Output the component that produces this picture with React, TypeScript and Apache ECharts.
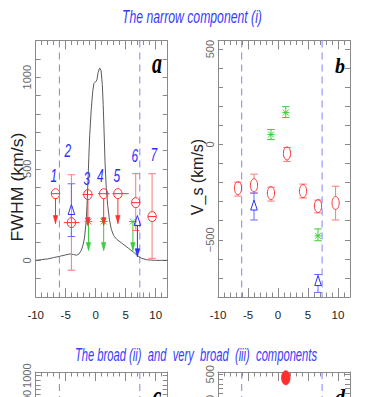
import React, { useEffect, useRef } from 'react';
import * as echarts from 'echarts';

// ---------- Panel a : line profile (grey curve) ----------
const curveX = [-10, -9, -8, -7, -6, -5, -4.3, -3.7, -3.2, -2.8, -2.4, -2.1, -1.85, -1.6, -1.45, -1.3, -1.15, -1.0, -0.75, -0.5, -0.3, 0, 0.2, 0.4, 0.65, 0.9, 1.1, 1.25, 1.4, 1.55, 1.75, 2.0, 2.3, 2.6, 3.0, 3.5, 4.5, 5.5, 6.3, 7.0, 7.6, 8.5, 10, 11, 12];
const curveY = [0, 4, 8, 15, 22, 30, 35, 32, 28, 35, 54, 85, 127, 210, 300, 420, 560, 680, 820, 920, 965, 975, 985, 1025, 1050, 1035, 960, 850, 700, 540, 400, 300, 220, 170, 135, 115, 90, 65, 45, 25, 12, 3, 0, 0, 0];

// ---------- Panel a : narrow component FWHM ----------
const redAX = [-6.7, -4.05, -1.3, 1.33, 3.7, 6.67, 9.4];
const redAY = [364, 206, 359, 364, 364, 315, 239];
const redAXLo = [null, -5.3, -2.2, 0.4, 2.8, null, null];
const redAXHi = [null, -2.7, -0.5, 2.3, 5.5, null, null];
const redAYLo = [null, -54, null, null, null, 163, 11];
const redAYHi = [null, 467, null, null, null, 473, 473];
const redALim = [201, null, 190, 190, 201, null, null];

const blueAX = [-4.05, 6.95];
const blueAY = [272, 212];
const blueAYLo = [130, null];
const blueAYHi = [418, null];
const blueALim = [null, 20];

const greenAX = [-1.2, 1.33, 6.2];
const greenAY = [212, 212, 212];
const greenALim = [54, 54, 54];

const numLabels = ['1', '2', '3', '4', '5', '6', '7'];
const numX = [-7.0, -4.67, -1.5, 0.78, 3.5, 6.5, 9.67];
const numY = [462, 598, 446, 462, 462, 571, 576];

// ---------- Panel b : narrow component velocity shift ----------
const redBX = [-6.67, -4.0, -1.17, 1.5, 4.17, 6.67, 9.6];
const redBY = [-229, -214, -255, -47, -245, -323, -307];
const redBLo = [-271, -255, -297, -89, -281, -359, -396];
const redBHi = [-198, -156, -224, -16, -208, -292, -219];

const blueBX = [-4.0, 6.67];
const blueBY = [-323, -719];
const blueBLo = [-396, -776];
const blueBHi = [-255, -682];

const greenBX = [-1.17, 1.3, 6.67];
const greenBY = [52, 167, -479];
const greenBLo = [26, 141, -505];
const greenBHi = [78, 198, -443];

// ---------- Panel d (only top visible) ----------
const redDX = [1.3];
const redDY = [426];
const redDHi = [500];

// vertical dashed reference lines
const dashX = [-6.05, 7.35];

const xTickLabels = [-10, -5, 0, 5, 10];

const AXIS = '#8a8a8a';
const RED = '#ff2f2f';
const RED_ERR = '#ff7878';
const BLUE = '#2f2fff';
const BLUE_ERR = '#6b6bff';
const GREEN = '#3ccc3c';
const DASH = '#8080ff';
const SANS = '"Liberation Sans", Arial, sans-serif';

const GRIDS = [
  { left: 35.7, top: 40.5, width: 132, height: 256.5 },
  { left: 218, top: 40.5, width: 132, height: 256.5 },
  { left: 35.7, top: 372, width: 132, height: 256.5 },
  { left: 218, top: 372, width: 132, height: 256.5 },
];
const Y_RANGES = [[-200, 1200], [-800, 545], [-300, 1080], [-800, 547]];

function seg(x1: number, y1: number, x2: number, y2: number, color: string, w = 1) {
  return { type: 'line', shape: { x1, y1, x2, y2 }, style: { stroke: color, lineWidth: w } };
}
function arrowHead(x: number, y: number, color: string) {
  return { type: 'polygon', shape: { points: [[x - 2.2, y - 8], [x, y], [x + 2.2, y - 8]] }, style: { fill: color, stroke: color, lineWidth: 0.6 } };
}
function triangle(cx: number, cy: number, color: string) {
  return { type: 'polygon', shape: { points: [[cx, cy - 6], [cx - 3.3, cy + 4], [cx + 3.3, cy + 4]] }, style: { fill: 'none', stroke: color, lineWidth: 1 } };
}
function errWithGap(ch: any[], cx: number, hiY: number, loY: number, cy: number, gapUp: number, gapDn: number, color: string, cap = 3.8) {
  ch.push(seg(cx, hiY, cx, cy - gapUp, color));
  ch.push(seg(cx, cy + gapDn, cx, loY, color));
  ch.push(seg(cx - cap, hiY, cx + cap, hiY, color));
  ch.push(seg(cx - cap, loY, cx + cap, loY, color));
}

function renderRedA(params: any, api: any) {
  const i = params.dataIndex;
  const x = redAX[i], y = redAY[i];
  const c = api.coord([x, y]);
  const rx = 4.2, ry = 5;
  const ch: any[] = [];
  if (redAYLo[i] != null) {
    const lo = api.coord([x, redAYLo[i]]), hi = api.coord([x, redAYHi[i]]);
    errWithGap(ch, c[0], hi[1], lo[1], c[1], ry, ry, RED_ERR);
  }
  if (redALim[i] != null) {
    const t = api.coord([x, redALim[i]]);
    ch.push(seg(c[0], c[1] + ry, c[0], t[1], RED));
    ch.push(arrowHead(c[0], t[1], RED));
  }
  let x1 = c[0] - rx, x2 = c[0] + rx;
  if (redAXLo[i] != null) {
    x1 = api.coord([redAXLo[i], y])[0];
    x2 = api.coord([redAXHi[i], y])[0];
  }
  ch.push(seg(x1, c[1], x2, c[1], RED));
  ch.push({ type: 'ellipse', shape: { cx: c[0], cy: c[1], rx, ry }, style: { fill: 'none', stroke: RED, lineWidth: 1 } });
  return { type: 'group', children: ch };
}

function renderBlueA(params: any, api: any) {
  const i = params.dataIndex;
  const x = blueAX[i];
  const c = api.coord([x, blueAY[i]]);
  const ch: any[] = [];
  if (blueAYLo[i] != null) {
    const lo = api.coord([x, blueAYLo[i]]), hi = api.coord([x, blueAYHi[i]]);
    errWithGap(ch, c[0], hi[1], lo[1], c[1], 6, 4, BLUE_ERR);
  }
  if (blueALim[i] != null) {
    const t = api.coord([x, blueALim[i]]);
    ch.push(seg(c[0], c[1] + 4, c[0], t[1], BLUE));
    ch.push(arrowHead(c[0], t[1], BLUE));
  }
  ch.push(triangle(c[0], c[1], BLUE));
  return { type: 'group', children: ch };
}

function renderGreenA(params: any, api: any) {
  const i = params.dataIndex;
  const x = greenAX[i];
  const c = api.coord([x, greenAY[i]]);
  const t = api.coord([x, greenALim[i]]);
  const ch: any[] = [];
  ch.push(seg(c[0], c[1], c[0], t[1], GREEN));
  ch.push(arrowHead(c[0], t[1], GREEN));
  ch.push(seg(c[0] - 3, c[1] - 3, c[0] + 3, c[1] + 3, GREEN));
  ch.push(seg(c[0] - 3, c[1] + 3, c[0] + 3, c[1] - 3, GREEN));
  ch.push(seg(c[0] - 4, c[1], c[0] + 4, c[1], GREEN));
  return { type: 'group', children: ch };
}

function renderNum(params: any, api: any) {
  const c = api.coord([api.value(0), api.value(1)]);
  return {
    type: 'text', x: c[0], y: c[1], scaleX: 0.85, scaleY: 1.3,
    style: { text: numLabels[params.dataIndex], font: 'italic 14px ' + SANS, fill: '#2d2dff', align: 'center', verticalAlign: 'middle', textAlign: 'center', textVerticalAlign: 'middle' },
  };
}

function renderRedB(params: any, api: any) {
  const i = params.dataIndex;
  const x = redBX[i];
  const c = api.coord([x, redBY[i]]);
  const lo = api.coord([x, redBLo[i]]), hi = api.coord([x, redBHi[i]]);
  const rx = 3.6, ry = 6.5;
  const ch: any[] = [];
  errWithGap(ch, c[0], hi[1], lo[1], c[1], Math.min(ry, c[1] - hi[1]), Math.min(ry, lo[1] - c[1]), RED_ERR);
  ch.push({ type: 'ellipse', shape: { cx: c[0], cy: c[1], rx, ry }, style: { fill: 'none', stroke: RED, lineWidth: 1 } });
  return { type: 'group', children: ch };
}

function renderBlueB(params: any, api: any) {
  const i = params.dataIndex;
  const x = blueBX[i];
  const c = api.coord([x, blueBY[i]]);
  const lo = api.coord([x, blueBLo[i]]), hi = api.coord([x, blueBHi[i]]);
  const ch: any[] = [];
  errWithGap(ch, c[0], hi[1], lo[1], c[1], 6, 4, BLUE_ERR);
  ch.push(triangle(c[0], c[1], BLUE));
  return { type: 'group', children: ch };
}

function renderGreenB(params: any, api: any) {
  const i = params.dataIndex;
  const x = greenBX[i];
  const c = api.coord([x, greenBY[i]]);
  const lo = api.coord([x, greenBLo[i]]), hi = api.coord([x, greenBHi[i]]);
  const ch: any[] = [];
  ch.push(seg(c[0], hi[1], c[0], lo[1], GREEN));
  ch.push(seg(c[0] - 3.8, hi[1], c[0] + 3.8, hi[1], GREEN));
  ch.push(seg(c[0] - 3.8, lo[1], c[0] + 3.8, lo[1], GREEN));
  ch.push(seg(c[0] - 3, c[1] - 3, c[0] + 3, c[1] + 3, GREEN));
  ch.push(seg(c[0] - 3, c[1] + 3, c[0] + 3, c[1] - 3, GREEN));
  ch.push(seg(c[0] - 3.5, c[1], c[0] + 3.5, c[1], GREEN));
  return { type: 'group', children: ch };
}

function renderRedD(params: any, api: any) {
  const i = params.dataIndex;
  const x = redDX[i];
  const c = api.coord([x, redDY[i]]);
  const hi = api.coord([x, redDHi[i]]);
  const ch: any[] = [];
  ch.push(seg(c[0], hi[1], c[0], c[1], RED_ERR));
  ch.push(seg(c[0] - 3.8, hi[1], c[0] + 3.8, hi[1], RED_ERR));
  ch.push({ type: 'ellipse', shape: { cx: c[0], cy: c[1], rx: 4.2, ry: 7 }, style: { fill: RED, stroke: RED, lineWidth: 1 } });
  return { type: 'group', children: ch };
}

function dashSeries(g: number) {
  const [ymin, ymax] = Y_RANGES[g];
  return {
    type: 'custom', coordinateSystem: 'cartesian2d', xAxisIndex: g * 4, yAxisIndex: g * 2,
    data: dashX.map((x) => [x, 0]),
    renderItem: (params: any, api: any) => {
      const x = dashX[params.dataIndex];
      const p1 = api.coord([x, ymax]);
      const p2 = api.coord([x, ymin]);
      return { type: 'line', shape: { x1: p1[0], y1: p1[1], x2: p2[0], y2: p2[1] }, style: { stroke: DASH, lineWidth: 1, lineDash: [7, 5] } };
    },
    z: 1,
  };
}

function custom(g: number, data: any[], renderItem: any, z = 3) {
  return { type: 'custom', coordinateSystem: 'cartesian2d', xAxisIndex: g * 4, yAxisIndex: g * 2, data, renderItem, z };
}

function buildOption() {
  const xAxes: any[] = [];
  const yAxes: any[] = [];
  GRIDS.forEach((_, g) => {
    const base = { type: 'value', gridIndex: g, min: -10, max: 12, splitLine: { show: false } };
    xAxes.push({
      ...base, position: 'bottom', interval: 5,
      axisLine: { show: true, onZero: false, lineStyle: { color: AXIS, width: 1 } },
      axisTick: { inside: true, length: 9, lineStyle: { color: AXIS } },
      axisLabel: {
        margin: 12, fontSize: 11.5, fontFamily: SANS, color: '#222',
        formatter: (v: number) => (xTickLabels.indexOf(v) >= 0 ? String(v) : ''),
      },
    });
    xAxes.push({ ...base, position: 'bottom', interval: 1, axisLine: { show: false, onZero: false }, axisTick: { inside: true, length: 4.5, lineStyle: { color: AXIS } }, axisLabel: { show: false } });
    xAxes.push({ ...base, position: 'top', interval: 5, axisLine: { show: true, onZero: false, lineStyle: { color: AXIS, width: 1 } }, axisTick: { inside: true, length: 9, lineStyle: { color: AXIS } }, axisLabel: { show: false } });
    xAxes.push({ ...base, position: 'top', interval: 1, axisLine: { show: false, onZero: false }, axisTick: { inside: true, length: 4.5, lineStyle: { color: AXIS } }, axisLabel: { show: false } });

    const [ymin, ymax] = Y_RANGES[g];
    const ybase = { type: 'value', gridIndex: g, min: ymin, max: ymax, interval: 100, splitLine: { show: false } };
    yAxes.push({
      ...ybase, position: 'left',
      axisLine: { show: true, onZero: false, lineStyle: { color: AXIS, width: 1 } },
      axisTick: { inside: true, length: 5, lineStyle: { color: AXIS } },
      axisLabel: {
        rotate: 90, margin: 3, fontSize: 11, fontFamily: SANS, color: '#6a6a6a',
        formatter: (v: number) => (v % 500 === 0 ? (v < 0 ? '\u2212' + Math.abs(v) : String(v)) : ''),
      },
    });
    yAxes.push({
      ...ybase, position: 'right',
      axisLine: { show: true, onZero: false, lineStyle: { color: AXIS, width: 1 } },
      axisTick: { inside: true, length: 5, lineStyle: { color: AXIS } },
      axisLabel: { show: false },
    });
  });

  const series: any[] = [
    dashSeries(0), dashSeries(1), dashSeries(2), dashSeries(3),
    {
      type: 'line', xAxisIndex: 0, yAxisIndex: 0, showSymbol: false, symbol: 'none',
      data: curveX.map((x, i) => [x, curveY[i]]),
      lineStyle: { color: '#5a5a5a', width: 1 }, z: 2,
    },
    custom(0, greenAX.map((x, i) => [x, greenAY[i]]), renderGreenA),
    custom(0, redAX.map((x, i) => [x, redAY[i]]), renderRedA, 4),
    custom(0, blueAX.map((x, i) => [x, blueAY[i]]), renderBlueA, 5),
    custom(0, numX.map((x, i) => [x, numY[i]]), renderNum, 6),
    custom(1, redBX.map((x, i) => [x, redBY[i]]), renderRedB),
    custom(1, blueBX.map((x, i) => [x, blueBY[i]]), renderBlueB, 4),
    custom(1, greenBX.map((x, i) => [x, greenBY[i]]), renderGreenB, 4),
    custom(3, redDX.map((x, i) => [x, redDY[i]]), renderRedD),
  ];

  const center = { align: 'center', verticalAlign: 'middle', textAlign: 'center', textVerticalAlign: 'middle' };
  const letterFont = 'bold italic 20px "Liberation Serif", serif';
  const nameFont = '17px ' + SANS;
  const graphic: any[] = [
    { type: 'text', x: 192, y: 16, scaleX: 0.815, scaleY: 1.25, style: { text: 'The narrow component (i)', font: 'italic 15px ' + SANS, fill: '#3a3aff', ...center } },
    { type: 'text', x: 196, y: 355, scaleX: 0.8, scaleY: 1.25, style: { text: 'The broad (ii)  and  very  broad  (iii)  components', font: 'italic 14px ' + SANS, fill: '#3a3aff', ...center } },
    { type: 'text', x: 17, y: 187, rotation: Math.PI / 2, scaleX: 1.04, style: { text: 'FWHM (km/s)', font: nameFont, fill: '#222', ...center } },
    { type: 'text', x: 197, y: 177, rotation: Math.PI / 2, scaleX: 0.94, style: { text: 'V_s (km/s)', font: nameFont, fill: '#222', ...center } },
    { type: 'text', x: 157, y: 63, scaleY: 1.5, style: { text: 'a', font: letterFont, fill: '#000', ...center } },
    { type: 'text', x: 340, y: 66, scaleY: 1.1, style: { text: 'b', font: letterFont, fill: '#000', ...center } },
    { type: 'text', x: 157, y: 396, scaleY: 1.5, style: { text: 'c', font: letterFont, fill: '#000', ...center } },
    { type: 'text', x: 340, y: 397, scaleY: 1.1, style: { text: 'd', font: letterFont, fill: '#000', ...center } },
  ];

  return {
    animation: false,
    backgroundColor: '#ffffff',
    grid: GRIDS,
    xAxis: xAxes,
    yAxis: yAxes,
    series,
    graphic,
  };
}

export default function App() {
  const ref = useRef<HTMLDivElement>(null);
  useEffect(() => {
    if (!ref.current) return;
    const chart = echarts.init(ref.current, null, { renderer: 'svg' });
    chart.setOption(buildOption() as any);
    return () => chart.dispose();
  }, []);
  return (
    <div
      ref={ref}
      style={{ position: 'absolute', left: 0, top: 0, width: 371, height: 397, overflow: 'hidden', background: '#fff' }}
    />
  );
}
